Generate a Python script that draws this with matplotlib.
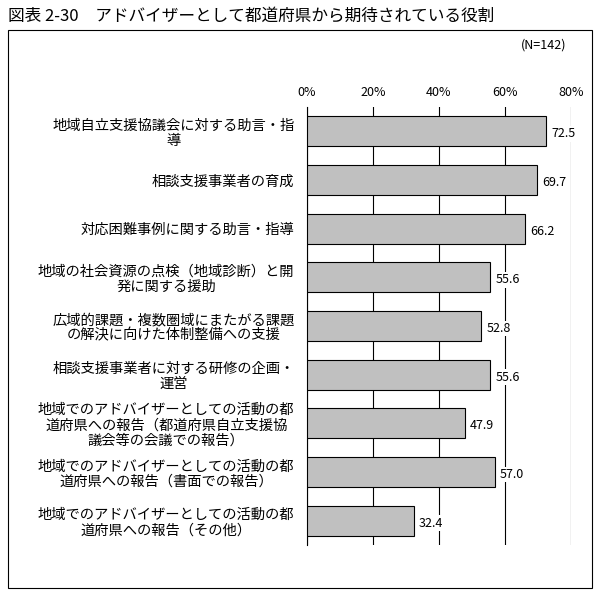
import matplotlib.pyplot as plt
from matplotlib.patches import Rectangle

plt.rcParams["font.family"] = "Noto Sans CJK JP"

labels = [
    "地域自立支援協議会に対する助言・指\n導",
    "相談支援事業者の育成",
    "対応困難事例に関する助言・指導",
    "地域の社会資源の点検（地域診断）と開\n発に関する援助",
    "広域的課題・複数圏域にまたがる課題\nの解決に向けた体制整備への支援",
    "相談支援事業者に対する研修の企画・\n運営",
    "地域でのアドバイザーとしての活動の都\n道府県への報告（都道府県自立支援協\n議会等の会議での報告）",
    "地域でのアドバイザーとしての活動の都\n道府県への報告（書面での報告）",
    "地域でのアドバイザーとしての活動の都\n道府県への報告（その他）",
]
values = [72.5, 69.7, 66.2, 55.6, 52.8, 55.6, 47.9, 57.0, 32.4]
ticks = [0, 20, 40, 60, 80]

W, H = 600, 596
fig = plt.figure(figsize=(W / 100, H / 100), dpi=100)
fig.patches.append(Rectangle((8 / W, 1 - 588 / H), 584 / W, 558 / H,
                             transform=fig.transFigure, fill=False,
                             edgecolor="black", linewidth=0.8))
fig.text(8 / W, 1 - 16 / H, "図表 2-30　アドバイザーとして都道府県から期待されている役割",
         fontsize=12, va="center", ha="left")
fig.text(566 / W, 1 - 45 / H, "(N=142)", fontsize=9, ha="right", va="center")

ax = fig.add_axes([307 / W, 1 - 545 / H, 264 / W, 438 / H])
y = list(range(len(values)))
ax.barh(y, values, height=0.62, color="#c0c0c0", edgecolor="black", linewidth=0.8, zorder=3)
for yi, v in zip(y, values):
    ax.text(v + 1.5, yi + 0.05, f"{v:.1f}", va="center", ha="left", fontsize=9, zorder=4,
            bbox=dict(facecolor="white", edgecolor="none", pad=1))
ax.set_xlim(0, 80)
ax.set_ylim(len(values) - 0.5, -0.5)
ax.set_xticks(ticks)
ax.set_xticklabels([f"{t}%" for t in ticks], fontsize=9)
ax.xaxis.tick_top()
ax.tick_params(axis="x", length=0, pad=6)
ax.set_yticks(y)
ax.set_yticklabels(labels, fontsize=10.3, multialignment="center", linespacing=1.1)
ax.tick_params(axis="y", length=0, pad=9)
ax.grid(axis="x", color="black", linewidth=0.8, zorder=0)
for s in ["top", "right", "bottom"]:
    ax.spines[s].set_visible(False)
ax.spines["left"].set_linewidth(0.8)

fig.savefig("out.png", dpi=100)
